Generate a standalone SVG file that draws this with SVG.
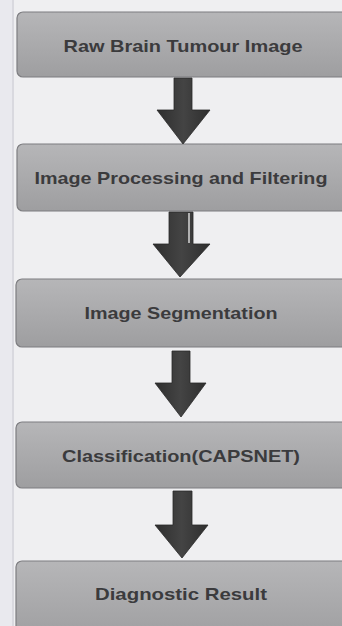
<svg xmlns="http://www.w3.org/2000/svg" width="342" height="626" viewBox="0 0 342 626">
  <defs>
    <linearGradient id="boxFill" x1="0" y1="0" x2="0" y2="1">
      <stop offset="0" stop-color="#b6b6b8"/>
      <stop offset="1" stop-color="#9e9ea0"/>
    </linearGradient>
    <linearGradient id="arrowFill" x1="0" y1="0" x2="1" y2="0">
      <stop offset="0" stop-color="#2e2e2e"/>
      <stop offset="0.5" stop-color="#444"/>
      <stop offset="1" stop-color="#2e2e2e"/>
    </linearGradient>
    <style>
      .box { fill: url(#boxFill); stroke: #7d7d80; stroke-width: 1.2; }
      .label { font-family: "Liberation Sans", Arial, sans-serif; font-weight: bold; font-size: 17px; fill: #3b3b3d; text-anchor: middle; }
      .arrow { fill: url(#arrowFill); stroke: #2a2a2a; stroke-width: 0.8; stroke-linejoin: round; }
    </style>
  </defs>

  <!-- page background with faint left margin strip -->
  <rect x="0" y="0" width="342" height="626" fill="#efeff1"/>
  <rect x="0" y="0" width="12" height="626" fill="#e9e9ee"/>
  <line x1="13" y1="0" x2="13" y2="626" stroke="#d2d2d8" stroke-width="1.5"/>

  <g id="node-raw">
    <rect class="box" x="17" y="12" width="340" height="65" rx="6"/>
    <text class="label" x="183" y="52" textLength="239" lengthAdjust="spacingAndGlyphs">Raw Brain Tumour Image</text>
  </g>

  <g id="node-processing">
    <rect class="box" x="17" y="144" width="340" height="67" rx="6"/>
    <text class="label" x="181" y="184" textLength="293" lengthAdjust="spacingAndGlyphs">Image Processing and Filtering</text>
  </g>

  <g id="node-segmentation">
    <rect class="box" x="16" y="279" width="341" height="68" rx="6"/>
    <text class="label" x="181" y="319" textLength="193" lengthAdjust="spacingAndGlyphs">Image Segmentation</text>
  </g>

  <g id="node-classification">
    <rect class="box" x="16" y="422" width="341" height="66" rx="6"/>
    <text class="label" x="181" y="462" textLength="238" lengthAdjust="spacingAndGlyphs">Classification(CAPSNET)</text>
  </g>

  <g id="node-result">
    <rect class="box" x="16" y="561" width="341" height="80" rx="6"/>
    <text class="label" x="181" y="600" textLength="172" lengthAdjust="spacingAndGlyphs">Diagnostic  Result</text>
  </g>

  <g id="connectors">
    <path class="arrow" d="M174 78 H192 V110 H210 L183 144 L157 110 H174 Z"/>
    <path class="arrow" d="M169 212 H193 V244 H210 L180 277 L153 244 H169 Z"/>
    <line x1="189" y1="213" x2="189" y2="243" stroke="#d8d8d8" stroke-width="1.5"/>
    <path class="arrow" d="M172 351 H190 V383 H206 L181 417 L155 383 H172 Z"/>
    <path class="arrow" d="M173 491 H192 V525 H208 L182 558 L155 525 H173 Z"/>
  </g>
</svg>
